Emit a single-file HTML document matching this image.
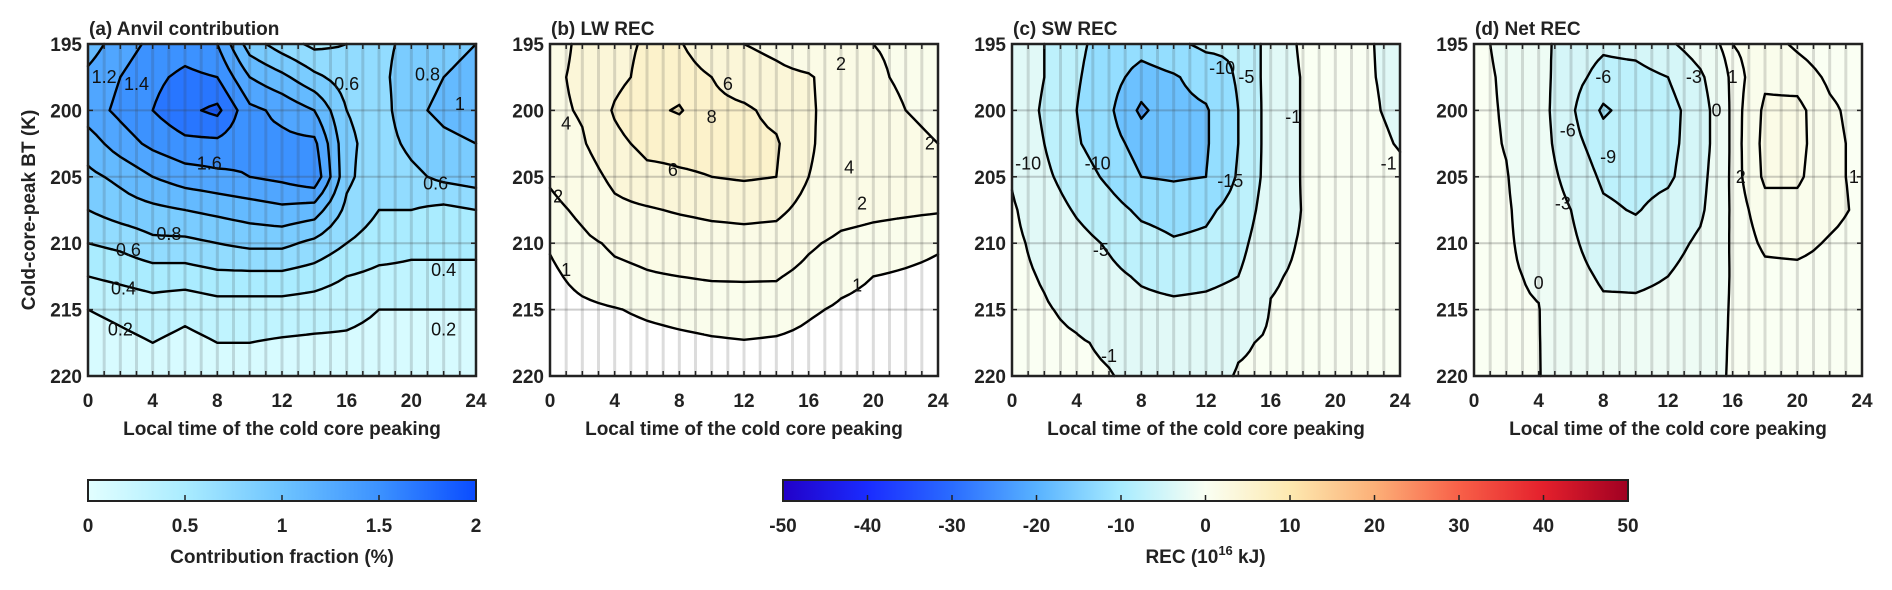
<!DOCTYPE html>
<html><head><meta charset="utf-8">
<style>
html,body{margin:0;padding:0;background:#fff;}
#wrap{position:relative;width:1892px;height:590px;overflow:hidden;font-family:"Liberation Sans",Arial,sans-serif;}
canvas{position:absolute;}
svg{position:absolute;left:0;top:0;}
text{font-family:"Liberation Sans",Arial,sans-serif;font-weight:bold;fill:#222;}
</style></head>
<body>
<div id="wrap">
<canvas id="cv0"></canvas>
<canvas id="cv1"></canvas>
<canvas id="cv2"></canvas>
<canvas id="cv3"></canvas>
<svg id="svg" width="1892" height="590"></svg>
</div>
<script>
// ---- data ----
const hours=[0,2,4,6,8,10,12,14,16,18,20,22,24];
const bts=[195,197.5,200,202.5,205,207.5,210,212.5,215,217.5,220];
const anvilVals=[
[1.1,1.3,1.45,1.5,1.4,0.9,0.7,0.55,0.6,0.75,0.85,0.95,1.0],
[1.25,1.4,1.55,1.65,1.6,1.2,1.05,0.85,0.7,0.75,0.9,1.0,1.05],
[1.3,1.45,1.6,1.75,1.85,1.45,1.35,1.2,0.8,0.7,0.95,1.05,1.1],
[1.1,1.3,1.45,1.55,1.55,1.45,1.45,1.45,0.85,0.7,0.85,0.95,1.0],
[0.95,1.05,1.2,1.3,1.35,1.4,1.45,1.55,0.85,0.65,0.75,0.85,0.9],
[0.8,0.9,0.95,1.0,1.05,1.1,1.15,1.1,0.75,0.6,0.6,0.55,0.6],
[0.6,0.65,0.75,0.75,0.8,0.85,0.85,0.75,0.6,0.5,0.45,0.45,0.45],
[0.4,0.45,0.5,0.5,0.55,0.55,0.55,0.5,0.4,0.35,0.35,0.35,0.35],
[0.2,0.25,0.3,0.25,0.3,0.3,0.3,0.28,0.25,0.2,0.2,0.2,0.2],
[0.1,0.15,0.2,0.15,0.2,0.2,0.18,0.17,0.17,0.15,0.12,0.12,0.12],
[0.05,0.1,0.1,0.1,0.12,0.1,0.1,0.1,0.1,0.1,0.08,0.08,0.08]];
const lwVals=[
[3,4.5,5.5,6.2,6.2,4.5,4,3.5,2.5,2.2,2,1.8,1.8],
[3.5,4.5,5.5,6.5,7,6,5,4.5,4.2,3,2.2,1.8,1.6],
[3.5,4.2,6.2,7.5,8.2,6.5,6.3,5.5,4.3,3,2.5,2,1.8],
[3,3.8,5.5,6.5,6.5,6.5,6.5,6.2,4.3,2.8,2.5,2.2,2.0],
[2.2,3,4.5,5.5,5.8,6.0,6.2,6.0,4.0,3,2.7,2.5,2.3],
[1.6,2.3,3.5,3.8,4.2,4.5,4.6,4.5,3.2,2.5,2.3,2.2,2.1],
[1.1,1.7,2.2,2.4,2.7,3.0,3.2,3.0,2.2,1.7,1.5,1.3,1.1],
[0.8,1.3,1.7,1.9,2.0,2.1,2.1,2.1,1.6,1.2,1.0,0.9,0.8],
[0.6,0.8,0.95,1.15,1.3,1.4,1.5,1.4,1.1,0.9,0.8,0.8,0.8],
[0.4,0.5,0.6,0.7,0.8,0.9,0.95,0.9,0.8,0.6,0.5,0.5,0.5],
[0.3,0.3,0.3,0.3,0.3,0.3,0.3,0.3,0.3,0.3,0.3,0.3,0.3]];
const swVals=[
[-2.5,-5,-9,-12,-13,-11,-9,-9.5,-3,-0.5,-0.5,-0.9,-1.4],
[-2.5,-5,-9.5,-13,-17,-15.5,-13,-9.5,-3,-0.8,-0.5,-0.9,-1.3],
[-2.5,-5.5,-10,-14,-21,-16.5,-15.5,-10,-3,-0.8,-0.5,-0.8,-1.3],
[-2.5,-5,-9.5,-13,-17,-16.5,-15.5,-10,-3,-0.8,-0.5,-0.6,-1.1],
[-1.2,-4,-7.5,-11,-15,-15.5,-15,-9.5,-3,-0.8,-0.5,-0.5,-0.7],
[-0.7,-2.5,-5.5,-8,-11,-12,-11,-8,-2.5,-0.9,-0.5,-0.5,-0.5],
[-0.5,-1.7,-3.5,-5.5,-8,-9.5,-9,-6.5,-1.7,-0.8,-0.5,-0.4,-0.4],
[-0.4,-1.2,-2.5,-4,-5.5,-6.5,-6,-5,-1.2,-0.7,-0.4,-0.4,-0.4],
[-0.3,-0.8,-1.5,-2.8,-3.8,-4.0,-3.8,-3.2,-0.9,-0.6,-0.3,-0.3,-0.3],
[-0.3,-0.5,-0.8,-1.3,-2.5,-3,-3,-1.3,-0.7,-0.5,-0.3,-0.3,-0.3],
[-0.2,-0.4,-0.6,-0.9,-1.5,-2,-2,-0.8,-0.6,-0.4,-0.3,-0.3,-0.3]];
const netVals=[
[0.5,-0.5,-2,-4.5,-5.5,-5,-3.5,-1.5,1.0,1.5,0.8,0.3,0.2],
[0.6,-0.3,-1.8,-5,-7,-7,-6,-3.5,0.5,1.8,1.6,0.8,0.5],
[0.6,-0.2,-1.7,-5.5,-9.5,-7.5,-7,-4.5,0.5,2.2,2.3,1.2,0.6],
[0.6,-0.1,-1.6,-5,-7.5,-7.3,-6.8,-4.5,0.5,2.3,2.3,1.3,0.7],
[0.6,0.1,-1.4,-4,-6.5,-7,-6.5,-4,0.5,2.2,2.2,1.2,0.8],
[0.5,0.2,-1.0,-3,-5.5,-6.2,-5,-3.5,0.4,1.6,1.6,1.3,0.8],
[0.5,0.2,-0.6,-2.5,-4.5,-4.8,-4,-2.5,0.3,1.2,1.3,0.9,0.6],
[0.4,0.2,-0.2,-2,-3.4,-3.5,-3,-1.8,0.2,0.7,0.7,0.6,0.5],
[0.3,0.2,0.05,-1.5,-2.5,-2.5,-2.3,-1.3,0.2,0.5,0.5,0.5,0.4],
[0.3,0.2,0.05,-1,-2,-2,-1.8,-1,0.2,0.4,0.4,0.4,0.4],
[0.3,0.2,0.05,-0.8,-1.5,-1.5,-1.3,-0.8,0.2,0.3,0.3,0.3,0.3]];
const anvilLevels=[0.2,0.4,0.6,0.8,1.0,1.2,1.4,1.6,1.8];
const lwLevels=[1,2,4,6,8];
const swLevels=[-20,-15,-10,-5,-1];
const netLevels=[-9,-6,-3,0,1,2];
const anvilLabels=[[3,198,"1.4"],[7.5,204,"1.6"],[1,197.5,"1.2"],[21.5,205.5,"0.6"],[16,198,"0.6"],[21,197.3,"0.8"],[5,209.3,"0.8"],[2.5,210.5,"0.6"],[2.2,213.4,"0.4"],[22,212,"0.4"],[2,216.5,"0.2"],[22,216.5,"0.2"],[23,199.5,"1"]];
const lwLabels=[[7.6,204.5,"6"],[1,201,"4"],[10,200.5,"8"],[18.5,204.3,"4"],[0.5,206.5,"2"],[23.5,202.5,"2"],[19.3,207,"2"],[1,212,"1"],[19,213.2,"1"],[11,198,"6"],[18,196.5,"2"]];
const swLabels=[[13,196.8,"-10"],[5.3,204,"-10"],[13.5,205.3,"-15"],[1,204,"-10"],[5.5,210.5,"-5"],[14.5,197.5,"-5"],[17.4,200.5,"-1"],[23.3,204,"-1"],[6,218.5,"-1"]];
const netLabels=[[8,197.5,"-6"],[5.8,201.5,"-6"],[8.3,203.5,"-9"],[5.5,207,"-3"],[13.6,197.5,"-3"],[4,213,"0"],[15,200,"0"],[16,197.5,"1"],[16.5,205,"2"],[23.5,205,"1"]];
const xTicks=[0,4,8,12,16,20,24];
const yTicks=[195,200,205,210,215,220];
const cbAnvilTicks=[0,0.5,1,1.5,2];
const cbRecTicks=[-50,-40,-30,-20,-10,0,10,20,30,40,50];

// ---- colormaps ----
const anvilStops=[[0,[226,255,255]],[0.5,[170,236,255]],[1,[110,196,255]],[1.5,[60,146,255]],[2,[10,76,255]]];
const recStops=[[-50,[34,0,200]],[-40,[26,44,255]],[-30,[42,108,255]],[-20,[88,178,255]],[-10,[168,236,255]],[0,[250,255,243]],[10,[253,233,176]],[20,[252,176,120]],[30,[248,96,72]],[40,[228,32,44]],[50,[160,0,34]]];
function cmap(stops,v){
  if(v<=stops[0][0])return stops[0][1];
  for(let i=1;i<stops.length;i++){if(v<=stops[i][0]){const t=(v-stops[i-1][0])/(stops[i][0]-stops[i-1][0]);return stops[i-1][1].map((c,k)=>Math.round(c+t*(stops[i][1][k]-c)));}}
  return stops[stops.length-1][1];
}
const NS="http://www.w3.org/2000/svg";
const svg=document.getElementById('svg');
function el(tag,attrs,parent){const e=document.createElementNS(NS,tag);for(const k in attrs)e.setAttribute(k,attrs[k]);(parent||svg).appendChild(e);return e;}

const TOP=44,W=388,H=332;
const panels=[
 {left:88,vals:anvilVals,levels:anvilLevels,stops:anvilStops,labels:anvilLabels,title:"(a) Anvil contribution",name:"anvil",rec:false},
 {left:550,vals:lwVals,levels:lwLevels,stops:recStops,labels:lwLabels,title:"(b) LW REC",name:"lw-rec",rec:true},
 {left:1012,vals:swVals,levels:swLevels,stops:recStops,labels:swLabels,title:"(c) SW REC",name:"sw-rec",rec:true},
 {left:1474,vals:netVals,levels:netLevels,stops:recStops,labels:netLabels,title:"(d) Net REC",name:"net-rec",rec:true}];

function interp(vals,hh,bb){
  let i=(hh-hours[0])/(hours[1]-hours[0]),j=(bb-bts[0])/(bts[1]-bts[0]);
  i=Math.max(0,Math.min(hours.length-1.0001,i));j=Math.max(0,Math.min(bts.length-1.0001,j));
  const i0=Math.floor(i),j0=Math.floor(j),fi=i-i0,fj=j-j0;
  const a=vals[j0][i0],b=vals[j0][i0+1],c=vals[j0+1][i0],d=vals[j0+1][i0+1];
  return a*(1-fi)*(1-fj)+b*fi*(1-fj)+c*(1-fi)*fj+d*fi*fj;
}
function fillColor(p,v){
  const L=p.levels;let lo,hi;
  if(v<L[0]){hi=L[0];lo=L[0]-(L[1]-L[0]);}
  else if(v>=L[L.length-1]){lo=L[L.length-1];hi=lo+(L[L.length-1]-L[L.length-2]);}
  else{for(let k=0;k<L.length-1;k++){if(v>=L[k]&&v<L[k+1]){lo=L[k];hi=L[k+1];break;}}}
  if(p.rec){
    if(lo>=0||hi>0){ if(v<L[0]&&L[0]>0)return [255,255,255]; return cmap(p.stops,Math.max(lo,0)); }
    return cmap(p.stops,(lo+hi)/2);
  }
  return cmap(p.stops,(lo+hi)/2);
}

panels.forEach((p,pi)=>{
  const xS=h=>p.left+h/24*W, yS=b=>TOP+(b-195)/25*H;
  const cv=document.getElementById('cv'+pi);
  cv.width=W;cv.height=H;cv.style.left=p.left+'px';cv.style.top=TOP+'px';
  const ctx=cv.getContext('2d');const img=ctx.createImageData(W,H);
  for(let y=0;y<H;y++)for(let x=0;x<W;x++){
    const v=interp(p.vals,(x+0.5)/W*24,195+(y+0.5)/H*25);
    const c=fillColor(p,v);const o=(y*W+x)*4;
    img.data[o]=c[0];img.data[o+1]=c[1];img.data[o+2]=c[2];img.data[o+3]=255;
  }
  ctx.putImageData(img,0,0);
  const g=el('g',{});
  
  
  for(let h=1;h<24;h++){
    const ln=el('line',{x1:xS(h),x2:xS(h),y1:TOP,y2:TOP+H,stroke:'rgba(60,60,60,0.18)','stroke-width':3},g);
    
    
  }
  [200,205,210,215].forEach(b=>{
    const ln=el('line',{x1:p.left,x2:p.left+W,y1:yS(b),y2:yS(b),stroke:'rgba(60,60,60,0.25)','stroke-width':2},g);
    
    
  });
  const R=4,nx=(hours.length-1)*R+1,ny=(bts.length-1)*R+1;
  const grid=[];for(let j=0;j<ny;j++){grid.push([]);for(let i=0;i<nx;i++)grid[j].push(interp(p.vals,i/(nx-1)*24,195+j/(ny-1)*25));}
  p.levels.forEach(L=>{
    let d='';
    for(let j=0;j<ny-1;j++)for(let i=0;i<nx-1;i++){
      const a=grid[j][i],b=grid[j][i+1],c=grid[j+1][i+1],e=grid[j+1][i];
      const pts=[];
      const px=ii=>xS(ii/(nx-1)*24),py=jj=>yS(195+jj/(ny-1)*25);
      if((a>=L)!=(b>=L)){const t=(L-a)/(b-a);pts.push([px(i+t),py(j)]);}
      if((b>=L)!=(c>=L)){const t=(L-b)/(c-b);pts.push([px(i+1),py(j+t)]);}
      if((e>=L)!=(c>=L)){const t=(L-e)/(c-e);pts.push([px(i+t),py(j+1)]);}
      if((a>=L)!=(e>=L)){const t=(L-a)/(e-a);pts.push([px(i),py(j+t)]);}
      for(let k=0;k+1<pts.length;k+=2)d+=`M${pts[k][0].toFixed(1)},${pts[k][1].toFixed(1)}L${pts[k+1][0].toFixed(1)},${pts[k+1][1].toFixed(1)}`;
    }
    if(d){const path=el('path',{d:d,stroke:'#000','stroke-width':2.4,fill:'none','stroke-linecap':'round'},g);
      
      }
  });
  p.labels.forEach(lb=>{
    const t=el('text',{x:xS(lb[0]),y:yS(lb[1])+6,'text-anchor':'middle','font-size':18},g);
    t.style.fontWeight='normal';t.style.fill='#111';
    t.textContent=lb[2];
    
    
  });
  for(let h=0;h<=24;h++){
    const t1=el('line',{x1:xS(h),x2:xS(h),y1:TOP+H,y2:TOP+H-5,stroke:'#222','stroke-width':1.5},g);
    
    
    const t2=el('line',{x1:xS(h),x2:xS(h),y1:TOP,y2:TOP+5,stroke:'#222','stroke-width':1.5},g);
    
    
  }
  yTicks.forEach(b=>{
    const t1=el('line',{x1:p.left,x2:p.left+5,y1:yS(b),y2:yS(b),stroke:'#222','stroke-width':1.5},g);
    
    
    const t2=el('line',{x1:p.left+W,x2:p.left+W-5,y1:yS(b),y2:yS(b),stroke:'#222','stroke-width':1.5},g);
    
    
    const tl=el('text',{x:p.left-6,y:yS(b)+7,'text-anchor':'end','font-size':19},g);
    tl.textContent=b;
    
    
  });
  xTicks.forEach(h=>{
    const tl=el('text',{x:xS(h),y:407,'text-anchor':'middle','font-size':19},g);
    tl.textContent=h;
    
    
  });
  const frame=el('rect',{x:p.left,y:TOP,width:W,height:H,fill:'none',stroke:'#222','stroke-width':2.5},g);
  
  
  const xt=el('text',{x:p.left+W/2,y:435,'text-anchor':'middle','font-size':19},g);
  xt.textContent='Local time of the cold core peaking';
  
  
  const tt=el('text',{x:p.left+1,y:35,'text-anchor':'start','font-size':19},g);
  tt.textContent=p.title;
  
  
});
const yt=el('text',{x:0,y:0,'text-anchor':'middle','font-size':19,transform:'translate(35,210) rotate(-90)'});
yt.textContent='Cold-core-peak BT (K)';



const defs=el('defs',{});
function grad(id,stops,min,max){
  const lg=el('linearGradient',{id:id,x1:0,x2:1,y1:0,y2:0},defs);
  stops.forEach(s=>{const c=s[1];el('stop',{offset:((s[0]-min)/(max-min)*100)+'%','stop-color':`rgb(${c[0]},${c[1]},${c[2]})`},lg);});
}
grad('gA',anvilStops,0,2);grad('gR',recStops,-50,50);
function colorbar(x0,x1,min,max,ticks,gid,name){
  const g=el('g',{});
  
  
  const cS=v=>x0+(v-min)/(max-min)*(x1-x0);
  const r=el('rect',{x:x0,y:480,width:x1-x0,height:21,fill:`url(#${gid})`,stroke:'#222','stroke-width':2},g);
  
  
  ticks.forEach((v,k)=>{
    if(k>0&&k<ticks.length-1){const t=el('line',{x1:cS(v),x2:cS(v),y1:501,y2:495,stroke:'#222','stroke-width':1.5},g);
      
      }
    const tl=el('text',{x:cS(v),y:532,'text-anchor':'middle','font-size':19},g);
    tl.textContent=v;
    
    
  });
  const tt=el('text',{x:(x0+x1)/2,y:563,'text-anchor':'middle','font-size':19},g);
  
  
  return tt;
}
const t1=colorbar(88,476,0,2,cbAnvilTicks,'gA','anvil-colorbar');
t1.textContent='Contribution fraction (%)';
const t2=colorbar(783,1628,-50,50,cbRecTicks,'gR','rec-colorbar');
t2.innerHTML='REC (10<tspan dy="-8" font-size="13">16</tspan><tspan dy="8"> kJ)</tspan>';
</script>
</body></html>
